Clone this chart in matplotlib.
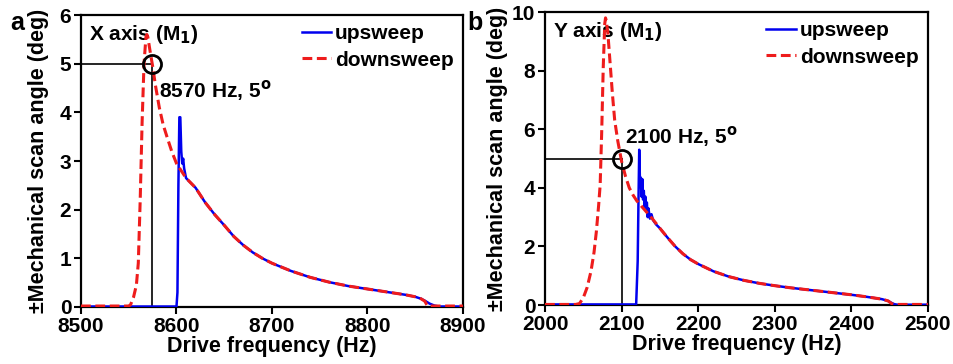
import matplotlib
matplotlib.use("Agg")
import matplotlib.pyplot as plt

plt.rcParams["font.family"] = ["Liberation Sans", "DejaVu Sans"]
plt.rcParams["font.weight"] = "bold"
plt.rcParams["axes.labelweight"] = "bold"

# Panel a: X axis (M1)
xa_down_f = [8500, 8550, 8552, 8555, 8558, 8560, 8562, 8564, 8566, 8568, 8569, 8570, 8572,
             8575, 8578, 8582, 8586, 8590, 8595, 8600, 8610, 8620, 8630, 8640, 8650, 8660,
             8670, 8680, 8690, 8700, 8720, 8740, 8760, 8780, 8800, 8820, 8840, 8850, 8856,
             8860, 8862, 8863, 8900]
xa_down_v = [0.02, 0.02, 0.05, 0.2, 0.45, 0.9, 2.2, 3.8, 5.0, 5.55, 5.6, 5.55, 5.3,
             4.95, 4.55, 4.1, 3.75, 3.5, 3.2, 2.95, 2.65, 2.45, 2.15, 1.9, 1.68, 1.45,
             1.27, 1.12, 1.0, 0.9, 0.74, 0.61, 0.51, 0.43, 0.37, 0.31, 0.25, 0.21, 0.17,
             0.12, 0.05, 0.02, 0.02]
xa_up_f = [8500, 8600, 8601, 8602, 8603, 8604, 8605, 8606, 8607, 8608, 8609, 8610, 8620,
           8630, 8640, 8650, 8660, 8670, 8680, 8690, 8700, 8720, 8740, 8760, 8780, 8800,
           8820, 8840, 8850, 8856, 8860, 8865, 8870, 8875, 8900]
xa_up_v = [0.01, 0.01, 0.3, 2.5, 3.9, 3.9, 3.2, 2.95, 3.05, 2.85, 2.75, 2.65, 2.45,
           2.15, 1.9, 1.68, 1.45, 1.27, 1.12, 1.0, 0.9, 0.74, 0.61, 0.51, 0.43, 0.37,
           0.31, 0.25, 0.21, 0.17, 0.13, 0.07, 0.03, 0.01, 0.01]
xa_mark = (8574, 5)

# Panel b: Y axis (M1)
yb_down_f = [2000, 2040, 2045, 2050, 2055, 2060, 2064, 2067, 2070, 2072, 2074, 2076, 2078,
             2079, 2080, 2082, 2084, 2086, 2088, 2091, 2095, 2100, 2105, 2110, 2115, 2120,
             2125, 2130, 2140, 2150, 2160, 2170, 2180, 2190, 2200, 2220, 2240, 2260, 2280,
             2300, 2320, 2340, 2360, 2380, 2400, 2420, 2440, 2448, 2452, 2455, 2500]
yb_down_v = [0.02, 0.02, 0.05, 0.25, 0.6, 1.15, 1.8, 2.5, 3.4, 4.1, 5.9, 8.1, 9.6,
             9.8, 9.7, 9.3, 8.6, 7.9, 7.2, 6.3, 5.6, 4.9, 4.4, 4.0, 3.75, 3.55,
             3.4, 3.25, 2.95, 2.62, 2.3, 2.0, 1.75, 1.55, 1.4, 1.15, 0.97, 0.84, 0.74,
             0.66, 0.59, 0.53, 0.47, 0.41, 0.35, 0.28, 0.2, 0.14, 0.06, 0.02, 0.02]
yb_up_f = [2000, 2119, 2121, 2122, 2123, 2124, 2125, 2126, 2127, 2128, 2129, 2130, 2131,
           2132, 2133, 2134, 2135, 2137, 2139, 2141, 2145, 2150, 2160, 2170, 2180, 2190,
           2200, 2220, 2240, 2260, 2280, 2300, 2320, 2340, 2360, 2380, 2400, 2420, 2440,
           2448, 2452, 2456, 2460, 2500]
yb_up_v = [0.02, 0.02, 1.5, 3.5, 5.3, 4.2, 4.35, 3.7, 4.3, 3.6, 3.9, 3.3, 3.7,
           3.2, 3.5, 3.0, 3.3, 2.95, 3.1, 2.9, 2.75, 2.62, 2.3, 2.0, 1.75, 1.55,
           1.4, 1.15, 0.97, 0.84, 0.74, 0.66, 0.59, 0.53, 0.47, 0.41, 0.35, 0.28, 0.2,
           0.14, 0.08, 0.03, 0.01, 0.01]
yb_mark = (2100, 5)

fig = plt.figure(figsize=(9.54, 3.64), dpi=100)
ax_a = fig.add_axes([0.0849, 0.1566, 0.4004, 0.802])
ax_b = fig.add_axes([0.5713, 0.162, 0.4014, 0.805])


def draw_panel(ax, up_f, up_v, down_f, down_v, mark, xlim, ylim, yticks, xticks,
               title, note, note_xy, ylab_x):
    ax.plot(up_f, up_v, color="#0000ee", lw=1.8, label="upsweep", zorder=3)
    ax.plot(down_f, down_v, color="#ee1c1c", lw=2.2, dashes=(3.2, 1.5),
            label="downsweep", zorder=4)
    # guide lines to the operating point
    ax.plot([xlim[0], mark[0]], [mark[1], mark[1]], color="black", lw=1.2, zorder=2)
    ax.plot([mark[0], mark[0]], [0, mark[1]], color="black", lw=1.2, zorder=2)
    ax.plot([mark[0]], [mark[1]], marker="o", ms=13, mfc="none", mec="black",
            mew=2, zorder=5)
    ax.text(note_xy[0], note_xy[1], note, fontsize=15, fontweight="bold", va="center")
    ax.text(0.02, 0.935, title, transform=ax.transAxes, fontsize=15,
            fontweight="bold", va="center")
    ax.set_xlim(*xlim)
    ax.set_ylim(*ylim)
    ax.set_xticks(xticks)
    ax.set_yticks(yticks)
    ax.tick_params(direction="out", length=5, width=1.5, labelsize=15, pad=2)
    for s in ax.spines.values():
        s.set_linewidth(1.6)
    ax.set_xlabel("Drive frequency (Hz)", fontsize=15.5, labelpad=0)
    ax.set_ylabel("±Mechanical scan angle (deg)", fontsize=15.5)
    # ylabel anchor is its right edge (bottom of the rotated text)
    ax.yaxis.set_label_coords(ylab_x, 0.5)
    leg = ax.legend(loc="upper right", frameon=False, fontsize=15, handlelength=1.4,
                    handletextpad=0.2, borderaxespad=0.05, labelspacing=0.35)
    for t in leg.get_texts():
        t.set_fontweight("bold")


draw_panel(ax_a, xa_up_f, xa_up_v, xa_down_f, xa_down_v, xa_mark,
           (8500, 8900), (0, 6), range(0, 7), range(8500, 8901, 100),
           "X axis (M$_\\mathbf{1}$)", "8570 Hz, 5$^\\mathbf{o}$", (8582, 4.45), -0.084)
draw_panel(ax_b, yb_up_f, yb_up_v, yb_down_f, yb_down_v, yb_mark,
           (2000, 2500), (0, 10), range(0, 11, 2), range(2000, 2501, 100),
           "Y axis (M$_\\mathbf{1}$)", "2100 Hz, 5$^\\mathbf{o}$", (2104, 5.75), -0.097)

fig.text(0.0105, 0.918, "a", fontsize=18, fontweight="bold")
fig.text(0.490, 0.918, "b", fontsize=18, fontweight="bold")

fig.savefig("out.png", dpi=100)
